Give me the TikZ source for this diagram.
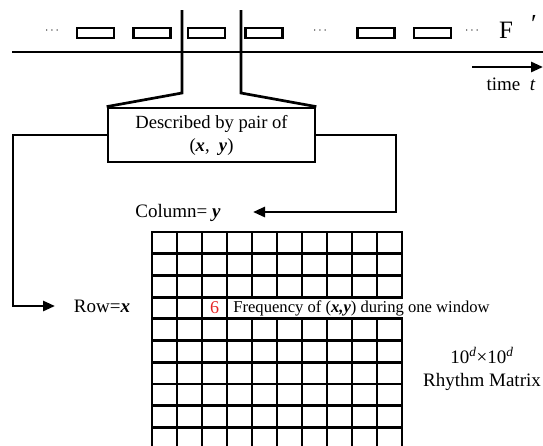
\documentclass[tikz,border=0pt]{standalone}
\usepackage{fontspec}
\setmainfont{Liberation Serif}
\usetikzlibrary{arrows.meta}
\definecolor{sixred}{rgb}{0.9,0.15,0.15}
\begin{document}
\begin{tikzpicture}[x=1pt,y=-1pt,line width=2.7pt,
  lbl/.style={font=\fontsize{19}{23}\selectfont,inner sep=0pt,align=center},
  frame/.style={draw,rectangle,line width=2.6pt,minimum width=37pt,minimum height=10pt,inner sep=0pt},
  dots/.style={font=\fontsize{12}{13}\selectfont,inner sep=0pt},
  arr/.style={-{Triangle[length=12pt,width=10pt]},line width=2.7pt},
  gridline/.style={line width=2.8pt,line cap=rect}]
\useasboundingbox (0,0) rectangle (543,445);
% time axis
\coordinate (ax1) at (12,52);
\coordinate (ax2) at (543,52);
\draw (ax1) -- (ax2);
% frames
\node[frame] (f1) at (95.5,33) {};
\node[frame] (f2) at (152,33) {};
\node[frame] (f3) at (206.5,33) {};
\node[frame] (f4) at (264,33) {};
\node[frame] (f5) at (376,33) {};
\node[frame] (f6) at (432.5,33) {};
\node[dots] (d1) at (52,31) {$\cdots$};
\node[dots] (d2) at (320,31) {$\cdots$};
\node[dots] (d3) at (472,31) {$\cdots$};
\node[font=\fontsize{25}{27}\selectfont,inner sep=0pt] (F) at (506,30) {F};
\node[font=\fontsize{26}{28}\selectfont,inner sep=0pt] (Fp) at (534,24) {′};
% time arrow
\coordinate (t1) at (472,67);
\coordinate (t2) at (543,67);
\draw[arr] (t1) -- (t2);
\node[lbl] (time) at (511,84) {time\ \ \textit{t}};
% description box
\node[draw,line width=2.7pt,minimum width=207pt,minimum height=54pt,inner sep=0pt,
      align=center,font=\fontsize{18.6}{23}\selectfont] (desc) at (211.5,135)
      {Described by pair of\\(\textbf{\textit{x}},\ \ \textbf{\textit{y}})};
\coordinate (v1) at (182,10);
\coordinate (b1) at (182,93);
\coordinate (v2) at (241,10);
\coordinate (b2) at (241,93);
\draw[line join=miter] (v1) -- (b1) -- (desc.north west);
\draw[line join=miter] (v2) -- (b2) -- (desc.north east);
% grid
\begin{scope}
\clip (0,0) rectangle (543,445);
\foreach \i in {0,...,10} {
  \draw[gridline] (152+25*\i,232) -- (152+25*\i,452);
}
\foreach \j in {0,...,9} {
  \draw[gridline] (152,232+21.7*\j) -- (402,232+21.7*\j);
}
\end{scope}
\node[font=\fontsize{18}{20}\selectfont,text=sixred,inner sep=0pt] (six) at (214.5,308) {6};
\node[anchor=west,fill=white,inner xsep=3pt,inner ysep=0.5pt,text height=12.5pt,text depth=4pt,
      font=\fontsize{16.6}{18}\selectfont] (freq) at (229,307.8)
      {Frequency of (\textbf{\textit{x,y}}) during one window};
% labels
\node[lbl] (col) at (178,213) {Column= \textbf{\textit{y}}};
\node[lbl] (row) at (102,306) {Row=\textbf{\textit{x}}};
\node[lbl] (mat) at (482,369) {10\textsuperscript{\textit{d}}×10\textsuperscript{\textit{d}}\\Rhythm Matrix};
% connectors
\coordinate (lcorner) at (13,306);
\coordinate (rowtip) at (55,306);
\draw[arr,line join=miter] (desc.west) -| (lcorner) -- (rowtip);
\coordinate (rcorner) at (396,212);
\coordinate (coltip) at (253,212);
\draw[arr,line join=miter] (desc.east) -| (rcorner) -- (coltip);
\end{tikzpicture}
\end{document}
